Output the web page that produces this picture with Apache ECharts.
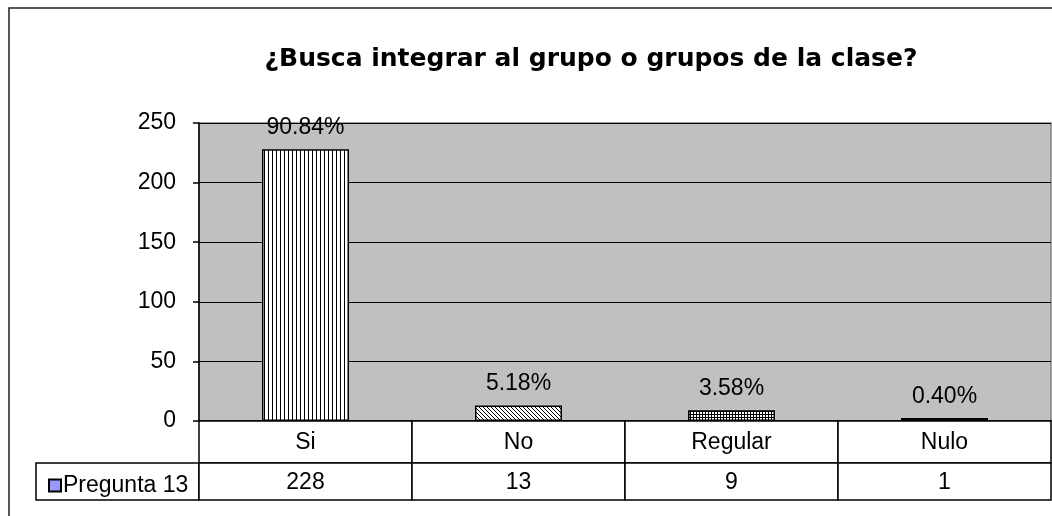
<!DOCTYPE html>
<html>
<head>
<meta charset="utf-8">
<script src="https://cdn.jsdelivr.net/npm/echarts@6/dist/echarts.min.js"></script>
<style>
html,body{margin:0;padding:0;background:#fff;}
#chart{width:1052px;height:516px;}
</style>
</head>
<body>
<div id="chart"></div>
<script>
// ---- data ----
var title = '¿Busca integrar al grupo o grupos de la clase?';
var seriesName = 'Pregunta 13';
var categories = ['Si', 'No', 'Regular', 'Nulo'];
var values = [228, 13, 9, 1];
var percentLabels = ['90.84%', '5.18%', '3.58%', '0.40%'];
var yTicks = [0, 50, 100, 150, 200, 250];

// ---- patterns (style only) ----
function makePattern(kind) {
  var c = document.createElement('canvas');
  var s = kind === 'vert' ? 4 : (kind === 'grid' ? 3 : 4);
  c.width = s; c.height = s;
  var g = c.getContext('2d');
  g.fillStyle = '#fff'; g.fillRect(0, 0, s, s);
  g.fillStyle = '#000';
  if (kind === 'vert') {
    g.fillRect(0, 0, 1, s);
  } else if (kind === 'diag') {
    for (var i = 0; i < s; i++) g.fillRect(i, i, 1, 1);
  } else if (kind === 'grid') {
    g.fillRect(0, 0, 1, s);
    g.fillRect(0, 0, s, 1);
  } else {
    g.fillRect(0, 0, s, s);
  }
  return {image: c, repeat: 'repeat'};
}
var patterns = [makePattern('vert'), makePattern('diag'), makePattern('grid'), makePattern('solid')];

var font = '"Liberation Sans", Arial, sans-serif';
var fs = 23;
var chart = echarts.init(document.getElementById('chart'), null, {renderer: 'canvas'});

var plotLeft = 199, plotRight = 1, plotTop = 123, plotBottomY = 421, tableBottomY = 500, catRowH = 42;

var option = {
  animation: false,
  backgroundColor: '#fff',
  textStyle: {fontFamily: font},
  title: {
    text: title,
    left: 586, textAlign: 'center', top: 42,
    textStyle: {fontFamily: '"DejaVu Sans", sans-serif', fontSize: 25, fontWeight: 'bold', color: '#000'}
  },
  legend: {
    left: 43, top: 469,
    itemWidth: 12, itemHeight: 12, itemGap: 4,
    icon: 'rect',
    data: [{name: seriesName, itemStyle: {color: '#9999FF', borderColor: '#000', borderWidth: 2}}],
    textStyle: {fontFamily: font, fontSize: fs, color: '#000', padding: [0, 0, 0, -3]},
    selectedMode: false
  },
  grid: [
    {left: plotLeft, right: plotRight, top: plotTop, height: plotBottomY - plotTop,
     show: true, backgroundColor: '#C0C0C0', borderColor: '#808080', borderWidth: 1.5},
    {left: plotLeft, right: plotRight, top: plotBottomY, height: tableBottomY - plotBottomY, show: false}
  ],
  xAxis: [
    {type: 'category', gridIndex: 0, data: categories,
     axisLine: {show: true, lineStyle: {color: '#000', width: 1.5}},
     axisTick: {show: false}, axisLabel: {show: false}, splitLine: {show: false}},
    {type: 'category', gridIndex: 1, data: categories, show: false}
  ],
  yAxis: [
    {type: 'value', gridIndex: 0, min: 0, max: 250, interval: 50,
     axisLine: {show: true, lineStyle: {color: '#000', width: 1.5}},
     axisTick: {show: true, length: 6, lineStyle: {color: '#000', width: 1.5}},
     axisLabel: {color: '#000', fontSize: fs, fontFamily: font, margin: 23},
     splitLine: {show: true, lineStyle: {color: '#000', width: 1}}},
    {type: 'value', gridIndex: 1, min: 0, max: 1, show: false}
  ],
  series: [
    {
      name: seriesName, type: 'bar', xAxisIndex: 0, yAxisIndex: 0,
      barWidth: 87, barMinHeight: 3,
      data: values.map(function (v, i) {
        return {value: v, itemStyle: {color: patterns[i], borderColor: '#000', borderWidth: 1.5}};
      }),
      itemStyle: {color: '#9999FF'},
      label: {
        show: true, position: 'top', distance: 10,
        color: '#000', fontSize: fs, fontFamily: font,
        formatter: function (p) { return percentLabels[p.dataIndex]; }
      }
    },
    {
      name: 'table', type: 'custom', xAxisIndex: 1, yAxisIndex: 1,
      silent: true, clip: false,
      data: categories.map(function (c, i) { return [i, 0]; }),
      renderItem: function (params, api) {
        var i = api.value(0);
        var cs = params.coordSys;
        var center = api.coord([i, 0])[0];
        var bw = api.size([1, 0])[0];
        var x0 = center - bw / 2;
        var y0 = cs.y;
        var y1 = cs.y + catRowH;
        var y2 = cs.y + cs.height;
        return {
          type: 'group',
          children: [
            {type: 'rect', shape: {x: x0, y: y0, width: bw, height: catRowH}, style: {fill: '#fff', stroke: '#000', lineWidth: 1.5}},
            {type: 'rect', shape: {x: x0, y: y1, width: bw, height: y2 - y1}, style: {fill: '#fff', stroke: '#000', lineWidth: 1.5}},
            {type: 'text', style: {text: categories[i], x: center, y: (y0 + y1) / 2 + 1, align: 'center', verticalAlign: 'middle', fontSize: fs, fontFamily: font, fill: '#000'}},
            {type: 'text', style: {text: String(values[i]), x: center, y: (y1 + y2) / 2 + 1, align: 'center', verticalAlign: 'middle', fontSize: fs, fontFamily: font, fill: '#000'}}
          ]
        };
      }
    }
  ],
  graphic: [
    {type: 'rect', z: -10, silent: true, shape: {x: 9, y: 8, width: 1200, height: 700}, style: {fill: null, stroke: '#222', lineWidth: 1.5}},
    {type: 'rect', z: 0, silent: true, shape: {x: 36, y: plotBottomY + catRowH, width: plotLeft - 36, height: tableBottomY - plotBottomY - catRowH}, style: {fill: '#fff', stroke: '#000', lineWidth: 1.5}}
  ]
};
chart.setOption(option);
</script>
</body>
</html>
